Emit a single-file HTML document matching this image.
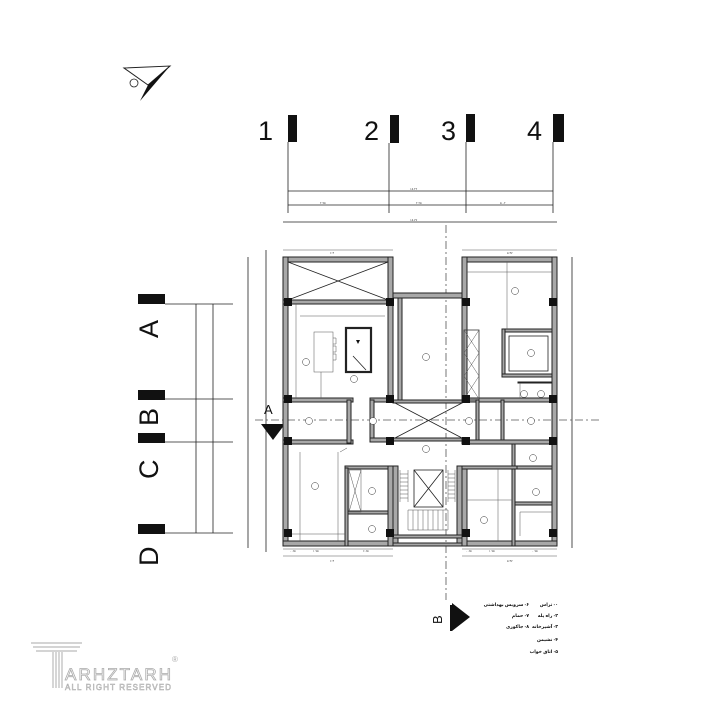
<!DOCTYPE html>
<html><head><meta charset="utf-8"><style>
html,body{margin:0;padding:0;background:#fff;}
svg{display:block;}
.w{fill:#a8a8a8;stroke:#222;stroke-width:1;}
.l{stroke:#222;stroke-width:0.8;fill:none;}
.t{stroke:#555;stroke-width:0.5;fill:none;}
.c{fill:#111;}
.tx{font-family:"Liberation Sans",sans-serif;font-size:3px;fill:#333;}
.ci{fill:#fff;stroke:#333;stroke-width:0.5;}
.fa{font-family:"Liberation Sans","DejaVu Sans",sans-serif;font-size:4.6px;font-weight:bold;fill:#111;}
</style></head><body>
<svg width="720" height="720" viewBox="0 0 720 720" xmlns="http://www.w3.org/2000/svg">
<polygon points="124,68 170,66 148,85" fill="#fff" stroke="#222" stroke-width="1"/>
<polygon points="170,66 148,85 140,101" fill="#111"/>
<circle cx="134" cy="83" r="4" fill="none" stroke="#222" stroke-width="0.8"/>
<g font-family="Liberation Sans,sans-serif" font-size="27" fill="#111">
<text x="258" y="140">1</text><text x="364" y="140">2</text><text x="441" y="140">3</text><text x="527" y="140">4</text></g>
<rect x="288" y="115" width="9" height="27" class="c"/>
<rect x="390" y="115" width="9" height="28" class="c"/>
<rect x="466" y="114" width="9" height="28" class="c"/>
<rect x="553" y="114" width="11" height="28" class="c"/>
<g class="l" stroke-width="0.7">
<line x1="288" y1="142" x2="288" y2="213"/><line x1="389" y1="143" x2="389" y2="213"/>
<line x1="466" y1="142" x2="466" y2="213"/><line x1="553" y1="142" x2="553" y2="213"/>
<line x1="288" y1="191" x2="553" y2="191"/><line x1="288" y1="205" x2="553" y2="205"/>
<line x1="283" y1="222" x2="557" y2="222"/>
</g>
<g class="tx" font-size="4"><text x="410" y="190">۱۵.۲۲</text><text x="320" y="204">۲.۹۵</text><text x="416" y="204">۲.۲۵</text><text x="500" y="204">۵.۰۲</text><text x="410" y="221">۱۵.۷۷</text></g>
<rect x="138" y="294" width="27" height="10" class="c"/>
<rect x="138" y="390" width="27" height="10" class="c"/>
<rect x="138" y="433" width="27" height="10" class="c"/>
<rect x="138" y="524" width="27" height="10" class="c"/>
<g font-family="Liberation Sans,sans-serif" font-size="27" fill="#111">
<text transform="translate(158,338) rotate(-90)">A</text>
<text transform="translate(158,426) rotate(-90)">B</text>
<text transform="translate(158,479) rotate(-90)">C</text>
<text transform="translate(158,566) rotate(-90)">D</text></g>
<g class="l" stroke-width="0.7">
<line x1="165" y1="304" x2="233" y2="304"/><line x1="165" y1="399" x2="233" y2="399"/>
<line x1="165" y1="442" x2="233" y2="442"/><line x1="165" y1="533" x2="233" y2="533"/>
<line x1="196" y1="304" x2="196" y2="533"/><line x1="213" y1="304" x2="213" y2="533"/>
<line x1="248" y1="257" x2="248" y2="548"/>
<line x1="266" y1="250" x2="266" y2="552"/>
<line x1="572" y1="257" x2="572" y2="548"/>
</g>
<line x1="446" y1="225" x2="446" y2="600" stroke="#555" stroke-width="0.8" stroke-dasharray="8,3,2,3"/>
<line x1="255" y1="420" x2="600" y2="420" stroke="#555" stroke-width="0.8" stroke-dasharray="8,3,2,3"/>
<text x="264" y="414" font-family="Liberation Sans,sans-serif" font-size="13" fill="#111">A</text>
<polygon points="261,424 285,424 273,440" fill="#111"/>
<text transform="translate(442,624) rotate(-90)" font-family="Liberation Sans,sans-serif" font-size="13" fill="#111">B</text>
<rect x="450" y="605" width="2" height="26" fill="#111"/>
<polygon points="452,603 452,631 470,617" fill="#111"/>
<rect x="283" y="257" width="110" height="5" class="w"/>
<rect x="283" y="257" width="5" height="289" class="w"/>
<rect x="283" y="541" width="110" height="5" class="w"/>
<rect x="388" y="257" width="5" height="45" class="w"/>
<rect x="283" y="300" width="110" height="4" class="w"/>
<rect x="283" y="398" width="70" height="4" class="w"/>
<rect x="283" y="440" width="70" height="4" class="w"/>
<rect x="347" y="400" width="4" height="43" class="w"/>
<rect x="370" y="398" width="23" height="4" class="w"/>
<rect x="370" y="400" width="4" height="42" class="w"/>
<rect x="370" y="438" width="23" height="4" class="w"/>
<rect x="388" y="302" width="5" height="100" class="w"/>
<rect x="345" y="466" width="48" height="3" class="w"/>
<rect x="345" y="468" width="3" height="78" class="w"/>
<rect x="348" y="511" width="45" height="3" class="w"/>
<rect x="388" y="466" width="5" height="80" class="w"/>
<path class="l" d="M288,262 L388,300 M388,262 L288,300"/>
<line class="t" x1="296" y1="304" x2="296" y2="398"/>
<line class="t" x1="300" y1="316" x2="385" y2="316"/>
<rect class="t" x="314" y="332" width="19" height="40"/>
<path class="t" d="M333,338h3v6h-3 M333,346h3v6h-3 M333,354h3v6h-3"/>
<line class="t" x1="321" y1="372" x2="321" y2="398"/>
<rect x="346" y="328" width="25" height="44" fill="#fff" stroke="#222" stroke-width="2.2"/>
<polygon points="356,340 360,340 358,344" fill="#111"/>
<line class="l" x1="353" y1="356" x2="366" y2="370"/>
<line class="t" x1="292" y1="534" x2="345" y2="534"/>
<line class="t" x1="300" y1="452" x2="300" y2="541"/>
<line class="t" x1="338" y1="452" x2="338" y2="541"/>
<rect class="t" x="349" y="470" width="12" height="42"/>
<path class="t" d="M349,470 L361,512 M361,470 L349,512"/>
<line class="t" x1="347" y1="448" x2="340" y2="452"/>
<rect x="393" y="293" width="69" height="5" class="w"/>
<rect x="398" y="298" width="4" height="104" class="w"/>
<rect x="393" y="400" width="69" height="3" class="w"/>
<rect x="393" y="438" width="69" height="3" class="w"/>
<path class="l" d="M395,403 L462,438 M462,403 L395,438"/>
<rect x="393" y="466" width="5" height="80" class="w"/>
<rect x="457" y="466" width="5" height="80" class="w"/>
<rect x="393" y="535" width="69" height="3" class="w"/>
<rect x="393" y="543" width="69" height="3" class="w"/>
<g class="t">
<path d="M400,470v32 M408,470v32 M448,470v32 M455,470v32"/>
<path d="M400,474h8 M400,478h8 M400,482h8 M400,486h8 M400,490h8 M400,494h8 M400,498h8 M448,474h7 M448,478h7 M448,482h7 M448,486h7 M448,490h7 M448,494h7 M448,498h7"/>
<path d="M408,510v20 M413,510v20 M418,510v20 M423,510v20 M428,510v20 M433,510v20 M438,510v20 M443,510v20 M448,510v20 M408,510h40 M408,530h40"/>
</g>
<rect class="l" x="414" y="470" width="29" height="37"/>
<path class="l" d="M414,470 L443,507 M443,470 L414,507"/>
<rect x="462" y="257" width="95" height="5" class="w"/>
<rect x="552" y="257" width="5" height="289" class="w"/>
<rect x="462" y="541" width="95" height="5" class="w"/>
<rect x="462" y="257" width="5" height="145" class="w"/>
<rect x="462" y="466" width="5" height="80" class="w"/>
<rect x="462" y="398" width="95" height="4" class="w"/>
<rect x="462" y="440" width="95" height="4" class="w"/>
<rect x="502" y="329" width="50" height="3" class="w"/>
<rect x="502" y="329" width="3" height="48" class="w"/>
<rect x="502" y="374" width="50" height="3" class="w"/>
<rect class="l" x="509" y="336" width="39" height="35"/>
<rect x="464" y="330" width="15" height="70" fill="none" stroke="#333" stroke-width="0.8"/>
<path class="t" d="M464,330 L479,353 M479,330 L464,353 M464,353 L479,376 M479,353 L464,376 M464,376 L479,399 M479,376 L464,399"/>
<line class="t" x1="507" y1="262" x2="507" y2="329"/>
<line class="t" x1="467" y1="272" x2="552" y2="272"/>
<rect x="501" y="400" width="3" height="40" class="w"/>
<rect x="476" y="400" width="3" height="40" class="w"/>
<rect x="518" y="382" width="34" height="1" class="w"/>
<line class="t" x1="520" y1="383" x2="520" y2="398"/>
<rect x="512" y="444" width="3" height="102" class="w"/>
<rect x="515" y="466" width="37" height="3" class="w"/>
<rect x="515" y="502" width="37" height="3" class="w"/>
<rect x="462" y="466" width="55" height="3" class="w"/>
<line class="t" x1="467" y1="500" x2="512" y2="500"/>
<line class="t" x1="498" y1="469" x2="498" y2="541"/>
<line class="t" x1="520" y1="512" x2="520" y2="536"/>
<line class="t" x1="520" y1="512" x2="552" y2="512"/>
<g class="c">
<rect x="284" y="298" width="8" height="8"/><rect x="386" y="298" width="8" height="8"/>
<rect x="284" y="395" width="8" height="8"/><rect x="386" y="395" width="8" height="8"/>
<rect x="284" y="437" width="8" height="8"/><rect x="386" y="437" width="8" height="8"/>
<rect x="284" y="529" width="8" height="8"/><rect x="386" y="529" width="8" height="8"/>
<rect x="462" y="298" width="8" height="8"/><rect x="549" y="298" width="8" height="8"/>
<rect x="462" y="395" width="8" height="8"/><rect x="549" y="395" width="8" height="8"/>
<rect x="462" y="437" width="8" height="8"/><rect x="549" y="437" width="8" height="8"/>
<rect x="462" y="529" width="8" height="8"/><rect x="549" y="529" width="8" height="8"/>
</g>
<g>
<circle class="ci" cx="426" cy="357" r="3.5"/><circle class="ci" cx="354" cy="379" r="3.5"/>
<circle class="ci" cx="306" cy="362" r="3.5"/><circle class="ci" cx="309" cy="421" r="3.5"/>
<circle class="ci" cx="373" cy="421" r="3.5"/><circle class="ci" cx="469" cy="421" r="3.5"/>
<circle class="ci" cx="531" cy="421" r="3.5"/><circle class="ci" cx="426" cy="449" r="3.5"/>
<circle class="ci" cx="315" cy="486" r="3.5"/><circle class="ci" cx="372" cy="491" r="3.5"/>
<circle class="ci" cx="372" cy="529" r="3.5"/><circle class="ci" cx="515" cy="291" r="3.5"/>
<circle class="ci" cx="531" cy="353" r="3.5"/><circle class="ci" cx="524" cy="394" r="3.5"/>
<circle class="ci" cx="541" cy="394" r="3.5"/><circle class="ci" cx="533" cy="458" r="3.5"/>
<circle class="ci" cx="536" cy="492" r="3.5"/><circle class="ci" cx="484" cy="520" r="3.5"/>
</g>
<g class="tx">
<text x="330" y="254">۶.۴</text><text x="507" y="254">۵.۴۷</text>
<text x="290" y="552">۰.۶۵</text><text x="313" y="552">۱.۷۵</text><text x="363" y="552">۶.۶۵</text>
<text x="466" y="552">۰.۶۵</text><text x="489" y="552">۱.۷۵</text><text x="532" y="552">۰.۷۵</text>
<text x="330" y="562">۶.۴</text><text x="507" y="562">۵.۴۷</text>
</g>
<g class="t"><line x1="283" y1="556" x2="393" y2="556"/><line x1="462" y1="556" x2="557" y2="556"/><line x1="283" y1="549" x2="393" y2="549"/><line x1="462" y1="549" x2="557" y2="549"/><line x1="283" y1="250" x2="393" y2="250"/><line x1="462" y1="250" x2="557" y2="250"/></g>
<g class="fa" direction="rtl" text-anchor="start">
<text x="558" y="606">۰- تراس</text>
<text x="558" y="617">۲- راه پله</text>
<text x="558" y="628">۳- آشپزخانه</text>
<text x="558" y="641">۴- نشیمن</text>
<text x="558" y="653">۵- اتاق خواب</text>
<text x="529" y="606">۶- سرویس بهداشتی</text>
<text x="529" y="617">۷- حمام</text>
<text x="529" y="628">۸- جاکوزی</text>
</g>
<g fill="none" stroke="#bbb" stroke-width="1.2">
<line x1="31" y1="643" x2="82" y2="643"/><line x1="33" y1="647" x2="80" y2="647"/><line x1="36" y1="651" x2="77" y2="651"/>
<line x1="53" y1="652" x2="53" y2="688"/><line x1="56" y1="652" x2="56" y2="688"/><line x1="59" y1="652" x2="59" y2="688"/><line x1="62" y1="652" x2="62" y2="688"/>
</g>
<text x="65" y="680" font-family="Liberation Sans,sans-serif" font-size="17" textLength="106" fill="#fff" stroke="#aaa" stroke-width="0.8">ARHZTARH</text>
<text x="65" y="690" font-family="Liberation Sans,sans-serif" font-size="8" textLength="106" fill="#fff" stroke="#aaa" stroke-width="0.5">ALL RIGHT RESERVED</text>
<text x="172" y="662" font-family="Liberation Sans,sans-serif" font-size="8" fill="#aaa">®</text>
</svg>
</body></html>
